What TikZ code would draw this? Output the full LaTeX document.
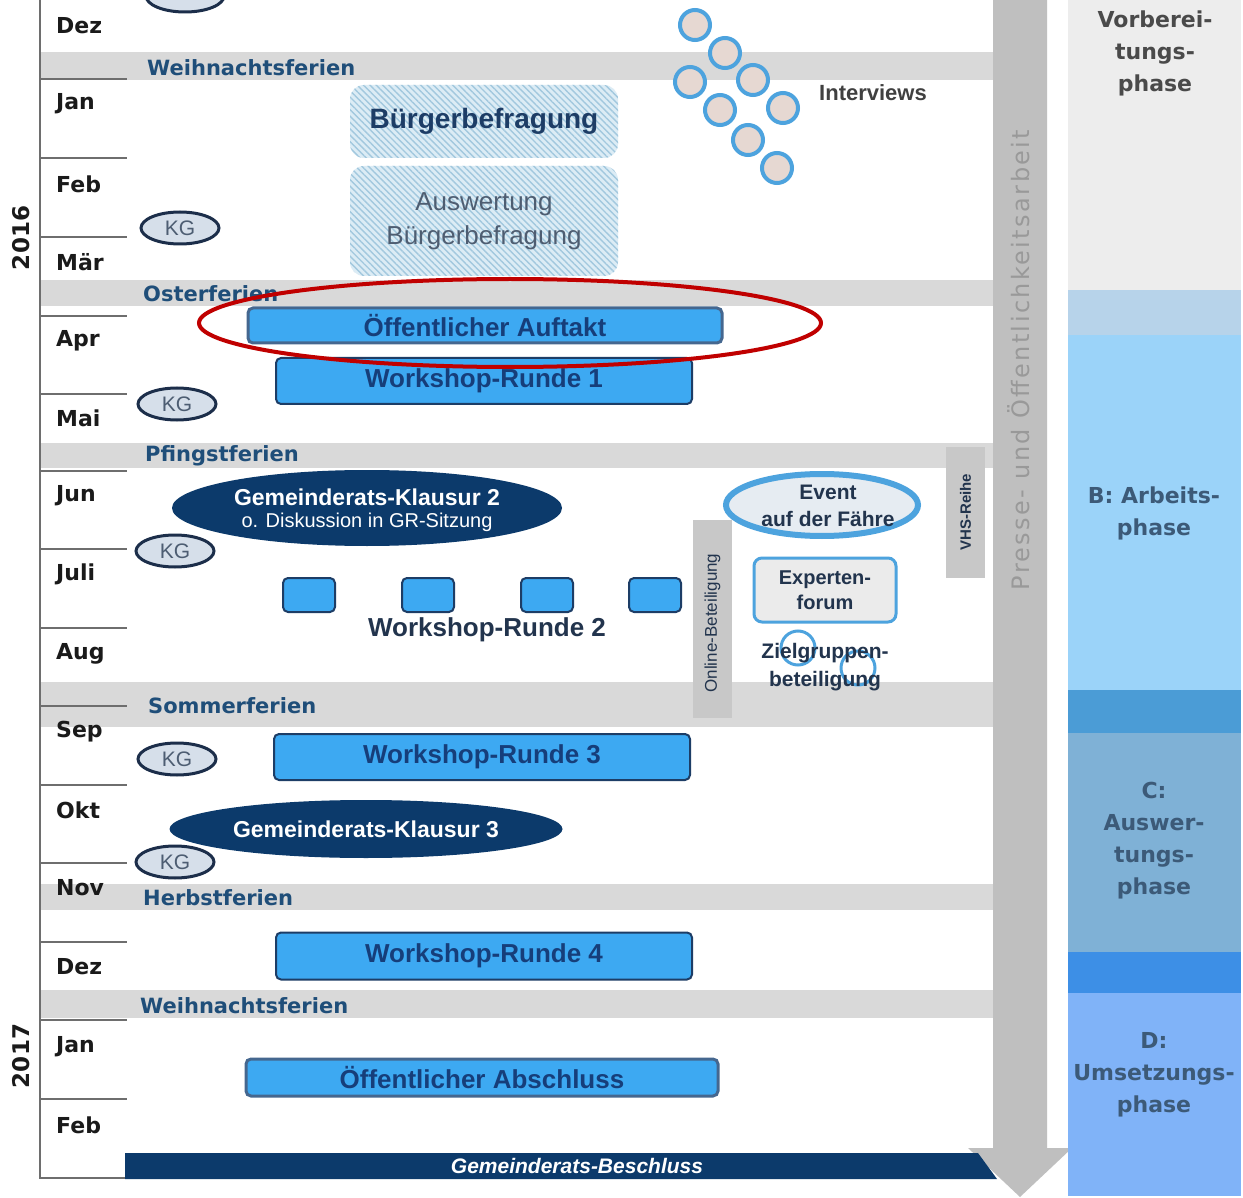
\documentclass[tikz,border=0pt]{standalone}
\usepackage{fontspec}
\setmainfont{Liberation Sans}
\newfontfamily\dv{DejaVu Sans}
\newfontfamily\dvls[LetterSpace=10]{DejaVu Sans}
\usetikzlibrary{shapes.geometric,patterns.meta}
\newcommand\fsz[2]{\fontsize{#1}{#2}\selectfont}
\definecolor{bandgray}{HTML}{D9D9D9}
\definecolor{ferientxt}{HTML}{1F4E79}
\definecolor{monthtxt}{HTML}{1A1A1A}
\definecolor{axisgray}{HTML}{6E6E6E}
\definecolor{kgfill}{HTML}{D6DFEA}
\definecolor{kgdraw}{HTML}{1C2E4A}
\definecolor{kgtxt}{HTML}{4D5D72}
\definecolor{wsfill}{HTML}{3DA9F2}
\definecolor{wsdraw}{HTML}{1D3D66}
\definecolor{wstxt}{HTML}{163E7A}
\definecolor{pubdraw}{HTML}{45678F}
\definecolor{navy}{HTML}{0C3A6B}
\definecolor{redring}{HTML}{C00000}
\definecolor{arrowgray}{HTML}{BFBFBF}
\definecolor{arrowtxt}{HTML}{999999}
\definecolor{hatchbg}{HTML}{DCECF5}
\definecolor{hatchline}{HTML}{A2C8DE}
\definecolor{ringblue}{HTML}{4DA3DE}
\definecolor{ringfill}{HTML}{E6D8D2}
\definecolor{ph0}{HTML}{EDEDED}
\definecolor{ph0b}{HTML}{B7D3EA}
\definecolor{phB}{HTML}{9BD3F9}
\definecolor{phBC}{HTML}{4B9CD6}
\definecolor{phC}{HTML}{7FB1D6}
\definecolor{phCD}{HTML}{3D8FE6}
\definecolor{phD}{HTML}{80B3F8}
\definecolor{phtxt}{HTML}{3C5A78}
\definecolor{phtxtgray}{HTML}{4A4A4A}
\definecolor{sidegray}{HTML}{C8C8C8}
\definecolor{darktxt}{HTML}{22344D}
\tikzset{
  month/.style={font=\dv\bfseries\fsz{22}{26}, text=monthtxt, anchor=west, inner sep=0pt},
  ferien/.style={font=\dv\bfseries\fsz{21}{24}, text=ferientxt, anchor=west, inner sep=0pt},
  tickline/.style={draw=axisgray, line width=2pt},
  band/.style={fill=bandgray},
  kg/.style={ellipse, draw=kgdraw, line width=3pt, fill=kgfill, minimum width=78pt, minimum height=32pt, inner sep=0pt, font=\fsz{21}{24}, text=kgtxt},
  wsbox/.style={rectangle, rounded corners=5pt, draw=wsdraw, line width=2pt, fill=wsfill, inner sep=0pt, font=\bfseries\fsz{26}{30}, text=wstxt},
  pubbox/.style={wsbox, draw=pubdraw, line width=3pt},
  smallbox/.style={rectangle, rounded corners=5pt, draw=wsdraw, line width=2pt, fill=wsfill, minimum width=52pt, minimum height=34pt, inner sep=0pt},
  klausur/.style={ellipse, fill=navy, inner sep=0pt, text=white, align=center},
  hatchbox/.style={rectangle, rounded corners=14pt, preaction={fill=hatchbg}, pattern={Lines[angle=-45,distance=4.5pt,line width=1.4pt]}, pattern color=hatchline, minimum width=268pt, inner sep=0pt, align=center},
  ring/.style={circle, draw=ringblue, line width=4pt, fill=ringfill, minimum size=30pt, inner sep=0pt},
  sidebar/.style={rectangle, fill=sidegray, inner sep=0pt, minimum width=39pt},
  phasetxt/.style={font=\dv\bfseries\fsz{22}{32}, text=phtxt, align=center},
}
\begin{document}
\begin{tikzpicture}[x=1pt,y=-1pt]
\useasboundingbox (0,0) rectangle (1243,1198);
\fill[white] (0,0) rectangle (1243,1198);

% holiday bands
\fill[band] (40,52) rectangle (995,80);
\fill[band] (40,280) rectangle (995,306);
\fill[band] (40,443) rectangle (995,468);
\fill[band] (40,682) rectangle (995,727);
\fill[band] (40,884) rectangle (995,910);
\fill[band] (40,990) rectangle (995,1018);
\node[ferien] (f1) at (147,68) {Weihnachtsferien};
\node[ferien] (f2) at (143,294) {Osterferien};
\node[ferien] (f3) at (145,456) {Pfingstferien};
\node[ferien] (f4) at (148,706) {Sommerferien};
\node[ferien] (f5) at (143,898) {Herbstferien};
\node[ferien] (f6) at (140,1006) {Weihnachtsferien};

% axis and ticks
\draw[tickline] (40,0) -- (40,1179);
\draw[tickline] (40,1178) -- (127,1178);
\foreach \y in {79,158,237,316,394,471,549,628,706,785,863,942,1020,1099}
  \draw[tickline] (40,\y) -- (127,\y);
\foreach \m/\y in {Dez/26,Jan/104,Feb/184,Mär/262,Apr/341,Mai/418,Jun/496,Juli/574,Aug/654,Sep/732,Okt/810,Nov/888,Dez/967,Jan/1047,Feb/1125}
  \node[month] (m\y) at (56,\y) {\m};
\node[rotate=90, font=\dv\bfseries\fsz{23}{26}, text=monthtxt] (y2016) at (21,238) {2016};
\node[rotate=90, font=\dv\bfseries\fsz{23}{26}, text=monthtxt] (y2017) at (21,1056) {2017};

% KG ellipses
\node[kg] (kg0) at (185,-4) {};
\node[kg] (kg1) at (180,228) {KG};
\node[kg] (kg2) at (177,404) {KG};
\node[kg] (kg3) at (175,551) {KG};
\node[kg] (kg4) at (177,759) {KG};
\node[kg] (kg5) at (175,862) {KG};

% Buergerbefragung
\node[hatchbox, minimum height=73pt, font=\bfseries\fsz{28}{32}, text=wsdraw] (bb1) at (484,121.5) {Bürgerbefragung};
\node[hatchbox, minimum height=110pt, font=\fsz{26}{34}, text=darktxt!80] (bb2) at (484,221) {Auswertung\\Bürgerbefragung};

% Interviews
\foreach \i/\x/\y in {1/695/25,2/725/53,3/753/80,4/783/108,5/690/82,6/720/110,7/748/140,8/777/168}
  \node[ring] (c\i) at (\x,\y) {};
\node[anchor=west, inner sep=0pt, font=\bfseries\fsz{22}{26}, text=black!75] (interviews) at (819,93) {Interviews};

% main boxes
\node[pubbox, minimum width=474pt, minimum height=35pt] (auftakt) at (485,325.5) {Öffentlicher Auftakt};
\node[wsbox, minimum width=416pt, minimum height=46pt] (ws1) at (484,381) {Workshop-Runde 1};
\node[klausur, minimum width=390pt, minimum height=76pt] (gk2) at (367,508) {};
\node[font=\bfseries\fsz{23}{26}, text=white] (gk2a) at (367,497) {Gemeinderats-Klausur 2};
\node[font=\fsz{20}{24}, text=white] (gk2b) at (367,522) {o. Diskussion in GR-Sitzung};
\foreach \i/\x in {1/309,2/428,3/547,4/655}
  \node[smallbox] (sq\i) at (\x,595) {};
\node[font=\bfseries\fsz{26}{30}, text=darktxt] (ws2) at (487,630) {Workshop-Runde 2};
\node[wsbox, minimum width=416pt, minimum height=46pt] (ws3) at (482,757) {Workshop-Runde 3};
\node[klausur, minimum width=393pt, minimum height=58pt, font=\bfseries\fsz{23}{26}] (gk3) at (366,829) {Gemeinderats-Klausur 3};
\node[wsbox, minimum width=416pt, minimum height=47pt] (ws4) at (484,956) {Workshop-Runde 4};
\node[pubbox, minimum width=472pt, minimum height=37pt] (abschluss) at (482,1077.5) {Öffentlicher Abschluss};

% red highlight
\node[ellipse, draw=redring, line width=4pt, minimum width=622pt, minimum height=88pt] (redmark) at (510,323) {};

% side participation formats
\node[sidebar, minimum height=198pt] (online) at (712.5,619) {};
\node[rotate=90, font=\fsz{17}{20}, text=darktxt] (onlinet) at (712.5,623) {Online-Beteiligung};
\node[sidebar, minimum height=131pt] (vhs) at (965.5,512.5) {};
\node[rotate=90, font=\bfseries\fsz{15}{18}, text=darktxt] (vhst) at (965.5,512) {VHS-Reihe};
\node[ellipse, draw=ringblue, line width=6pt, fill=kgfill!60, minimum width=192pt, minimum height=62pt, inner sep=0pt] (event) at (822,505) {};
\node[font=\bfseries\fsz{21}{27}, text=darktxt, align=center] (eventt) at (828,506) {Event\\auf der Fähre};
\node[rectangle, rounded corners=8pt, draw=ringblue, line width=3pt, fill=black!8, minimum width=142pt, minimum height=64pt, font=\bfseries\fsz{20}{25}, text=darktxt, align=center] (experten) at (825,590) {Experten-\\forum};
\node[circle, draw=ringblue, line width=3pt, minimum size=34pt] (zr1) at (798,648) {};
\node[circle, draw=ringblue, line width=3pt, minimum size=34pt] (zr2) at (858,668) {};
\node[font=\bfseries\fsz{21}{28}, text=darktxt, align=center] (ziel) at (825,667) {Zielgruppen-\\beteiligung};

% press arrow
\fill[arrowgray] (993,0) -- (1047,0) -- (1047,1148) -- (1072,1148) -- (1020,1197) -- (968,1148) -- (993,1148) -- cycle;
\node[rotate=90, font=\dvls\fsz{24}{28}, text=arrowtxt] (presse) at (1019,360) {Presse- und Öffentlichkeitsarbeit};

% final decision bar
\fill[navy] (125,1153) -- (978,1153) -- (997,1179) -- (125,1179) -- cycle;
\node[font=\bfseries\itshape\fsz{21}{24}, text=white] (beschluss) at (577,1166) {Gemeinderats-Beschluss};

% phases
\fill[ph0] (1068,0) rectangle (1241,290);
\fill[ph0b] (1068,290) rectangle (1241,335);
\fill[phB] (1068,335) rectangle (1241,690);
\fill[phBC] (1068,690) rectangle (1241,733);
\fill[phC] (1068,733) rectangle (1241,952);
\fill[phCD] (1068,952) rectangle (1241,993);
\fill[phD] (1068,993) rectangle (1241,1196);
\node[phasetxt, text=phtxtgray] (pA) at (1155,53) {Vorberei-\\tungs-\\phase};
\node[phasetxt] (pB) at (1154,513) {B: Arbeits-\\phase};
\node[phasetxt] (pC) at (1154,841) {C:\\Auswer-\\tungs-\\phase};
\node[phasetxt] (pD) at (1154,1075) {D:\\Umsetzungs-\\phase};
\end{tikzpicture}
\end{document}
